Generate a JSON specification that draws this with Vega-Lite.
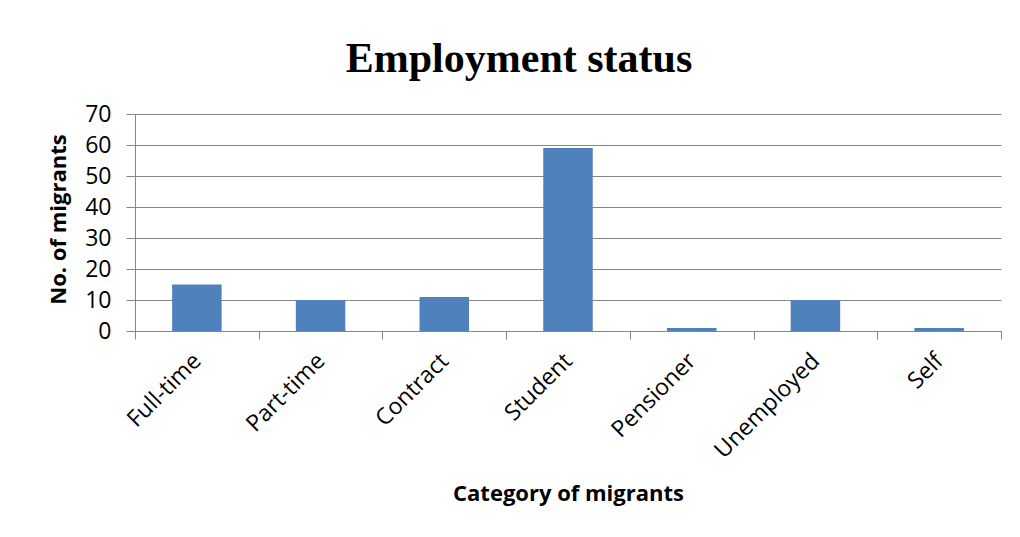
{
  "$schema": "https://vega.github.io/schema/vega-lite/v6.json",
  "autosize": {"type": "none"},
  "padding": {"left": 135, "top": 114, "right": 19, "bottom": 206},
  "width": 866,
  "height": 217,
  "background": "white",
  "title": {
    "text": "Employment status",
    "font": "Liberation Serif",
    "fontSize": 42,
    "fontWeight": "bold",
    "color": "black",
    "anchor": "middle",
    "frame": "group",
    "dx": -49,
    "dy": 41,
    "offset": 30,
    "baseline": "alphabetic"
  },
  "data": {
    "values": [
      {"category": "Full-time", "count": 15},
      {"category": "Part-time", "count": 10},
      {"category": "Contract", "count": 11},
      {"category": "Student", "count": 59},
      {"category": "Pensioner", "count": 1},
      {"category": "Unemployed", "count": 10},
      {"category": "Self", "count": 1}
    ]
  },
  "mark": {"type": "bar", "color": "#4F81BD", "width": {"band": 0.4}},
  "encoding": {
    "x": {
      "field": "category",
      "type": "nominal",
      "sort": null,
      "scale": {"paddingInner": 0, "paddingOuter": 0},
      "axis": {
        "title": "Category of migrants",
        "titleFont": "Open Sans",
        "titleFontSize": 22,
        "titleFontWeight": "bold",
        "titleColor": "black",
        "titleBaseline": "alphabetic",
        "titleY": 169,
        "tickBand": "extent",
        "tickSize": 8,
        "tickColor": "#868686",
        "domainColor": "#868686",
        "labelAngle": -45,
        "labelAlign": "right",
        "labelBaseline": "middle",
        "labelPadding": 18,
        "labelFont": "Open Sans",
        "labelFontSize": 23,
        "labelColor": "black",
        "grid": false
      }
    },
    "y": {
      "field": "count",
      "type": "quantitative",
      "scale": {"domain": [0, 70], "nice": false},
      "axis": {
        "title": "No. of migrants",
        "titleFont": "Open Sans",
        "titleFontSize": 22,
        "titleFontWeight": "bold",
        "titleColor": "black",
        "titleAngle": -90,
        "titleX": -77,
        "titleY": 105,
        "titleAlign": "center",
        "titleBaseline": "middle",
        "values": [0, 10, 20, 30, 40, 50, 60, 70],
        "tickSize": 9,
        "tickColor": "#868686",
        "domainColor": "#868686",
        "gridColor": "#868686",
        "gridWidth": 1,
        "labelFont": "Open Sans",
        "labelFontSize": 23,
        "labelColor": "black",
        "labelPadding": 15
      }
    }
  },
  "config": {"view": {"stroke": null}}
}
